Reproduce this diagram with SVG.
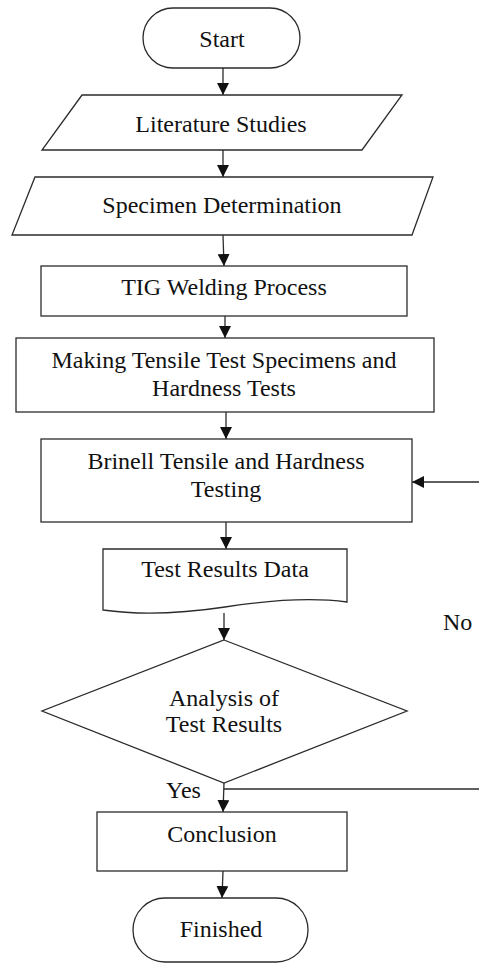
<svg xmlns="http://www.w3.org/2000/svg" width="479" height="963" viewBox="0 0 479 963">
  <defs>
    <style>
      .shape { fill: #ffffff; stroke: #2b2b2b; stroke-width: 1.3; }
      .edge { fill: none; stroke: #2b2b2b; stroke-width: 1.3; }
      .label { font-family: "Liberation Serif", "Times New Roman", serif; font-size: 24px; fill: #111111; text-anchor: middle; }
      .tag { font-family: "Liberation Serif", "Times New Roman", serif; font-size: 24px; fill: #111111; }
    </style>
    <marker id="arrow" viewBox="0 0 12 12" refX="12" refY="6" markerWidth="12" markerHeight="12" markerUnits="userSpaceOnUse" orient="auto">
      <path d="M0,0 L12,6 L0,12 Z" fill="#111111"/>
    </marker>
  </defs>
  <rect width="479" height="963" fill="#ffffff"/>

  <!-- connectors -->
  <g id="connectors">
    <line class="edge" x1="223" y1="68" x2="223" y2="95" marker-end="url(#arrow)"/>
    <line class="edge" x1="223" y1="150" x2="223" y2="177" marker-end="url(#arrow)"/>
    <line class="edge" x1="223" y1="235" x2="224" y2="266" marker-end="url(#arrow)"/>
    <line class="edge" x1="225" y1="316" x2="225" y2="338" marker-end="url(#arrow)"/>
    <line class="edge" x1="226" y1="412" x2="226" y2="439" marker-end="url(#arrow)"/>
    <line class="edge" x1="226" y1="522" x2="226" y2="549" marker-end="url(#arrow)"/>
    <line class="edge" x1="224" y1="613" x2="224" y2="640" marker-end="url(#arrow)"/>
    <line class="edge" x1="224" y1="783" x2="223" y2="812" marker-end="url(#arrow)"/>
    <line class="edge" x1="223" y1="871" x2="222" y2="898" marker-end="url(#arrow)"/>
    <!-- "No" return path -->
    <line class="edge" x1="224" y1="789" x2="479" y2="789"/>
    <line class="edge" x1="479" y1="482" x2="412" y2="482" marker-end="url(#arrow)"/>
    <text class="tag" x="443" y="630">No</text>
    <text class="tag" x="166" y="798">Yes</text>
  </g>

  <g id="start">
    <rect class="shape" x="143" y="8" width="157" height="60" rx="30" ry="30"/>
    <text class="label" x="222" y="47">Start</text>
  </g>

  <g id="literature">
    <polygon class="shape" points="82,95 402,95 362,150 42,150"/>
    <text class="label" x="221" y="132">Literature Studies</text>
  </g>

  <g id="specimen">
    <polygon class="shape" points="35,177 433,177 412,235 12,235"/>
    <text class="label" x="222" y="213">Specimen Determination</text>
  </g>

  <g id="tig">
    <rect class="shape" x="41" y="266" width="366" height="50"/>
    <text class="label" x="224" y="295">TIG Welding Process</text>
  </g>

  <g id="making">
    <rect class="shape" x="16" y="338" width="418" height="74"/>
    <text class="label" x="224" y="368">Making Tensile Test Specimens and</text>
    <text class="label" x="224" y="396">Hardness Tests</text>
  </g>

  <g id="brinell">
    <rect class="shape" x="41" y="439" width="371" height="83"/>
    <text class="label" x="226" y="469">Brinell Tensile and Hardness</text>
    <text class="label" x="226" y="497">Testing</text>
  </g>

  <g id="results-data">
    <path class="shape" d="M103,549 H347 V602 C310,597 270,600 225,607 C185,613 145,616 103,610 Z"/>
    <text class="label" x="225" y="577">Test Results Data</text>
  </g>

  <g id="analysis">
    <polygon class="shape" points="224,640 407,711 224,783 42,711"/>
    <text class="label" x="224" y="706">Analysis of</text>
    <text class="label" x="224" y="732">Test Results</text>
  </g>

  <g id="conclusion">
    <rect class="shape" x="97" y="812" width="250" height="59"/>
    <text class="label" x="222" y="842">Conclusion</text>
  </g>

  <g id="finished">
    <rect class="shape" x="133" y="898" width="175" height="64" rx="32" ry="32"/>
    <text class="label" x="221" y="937">Finished</text>
  </g>
</svg>
